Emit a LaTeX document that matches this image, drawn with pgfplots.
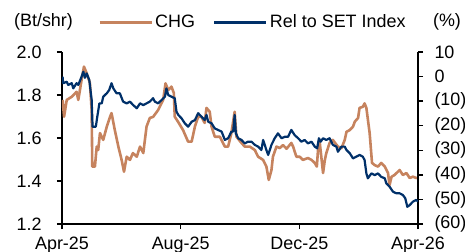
\documentclass[border=0pt]{standalone}
\usepackage{pgfplots}
\pgfplotsset{compat=1.18}
\usepackage{fontspec}
\setmainfont{Liberation Sans}
\definecolor{chg}{RGB}{198,131,94}
\definecolor{rel}{RGB}{0,48,105}
\newcommand{\bigf}{\fontsize{18}{20}\selectfont}
\begin{document}
\begin{tikzpicture}
\pgfplotsset{
  every axis/.append style={
    scale only axis, width=356bp, height=172bp,
    xmin=0, xmax=12,
    tick align=outside, major tick length=5bp,
    axis line style={line width=1.5bp, -},
    tick style={line width=1.5bp, black},
    tick label style={font=\bigf},
    /pgf/number format/assume math mode=true,
  }
}
\begin{axis}[
  ymin=1.2, ymax=2.0,
  axis x line*=bottom, axis y line*=left,
  xtick={0,4,8,12}, xticklabels={Apr-25,Aug-25,Dec-25,Apr-26},
  xticklabel style={anchor=base, yshift=-20bp},
  ytick={1.2,1.4,1.6,1.8,2.0},
  yticklabel style={/pgf/number format/fixed, /pgf/number format/fixed zerofill, /pgf/number format/precision=1, xshift=-12bp},
]
\addplot[chg, line width=2.6bp, line join=round] coordinates {
(0.02,1.777)(0.07,1.699)(0.16,1.777)(0.33,1.792)(0.49,1.815)(0.55,1.777)(0.66,1.870)(0.74,1.932)(0.83,1.902)(0.94,1.856)(1.00,1.730)(1.02,1.467)(1.11,1.467)(1.17,1.560)(1.22,1.544)(1.28,1.623)(1.39,1.591)(1.51,1.653)(1.62,1.699)(1.67,1.716)(1.78,1.637)(1.90,1.560)(2.01,1.498)(2.09,1.443)(2.18,1.513)(2.29,1.498)(2.39,1.530)(2.52,1.513)(2.63,1.560)(2.74,1.530)(2.85,1.653)(2.96,1.693)(3.07,1.698)(3.24,1.730)(3.41,1.777)(3.49,1.854)(3.58,1.823)(3.69,1.839)(3.77,1.809)(3.80,1.699)(3.91,1.676)(4.08,1.637)(4.25,1.583)(4.37,1.583)(4.48,1.653)(4.59,1.699)(4.70,1.699)(4.81,1.670)(4.87,1.740)(4.98,1.722)(5.04,1.653)(5.15,1.606)(5.32,1.606)(5.49,1.560)(5.60,1.560)(5.71,1.623)(5.82,1.722)(5.88,1.606)(6.05,1.577)(6.16,1.560)(6.33,1.560)(6.50,1.544)(6.61,1.513)(6.78,1.498)(6.89,1.467)(6.97,1.405)(7.06,1.451)(7.11,1.513)(7.23,1.560)(7.34,1.553)(7.45,1.567)(7.57,1.550)(7.73,1.577)(7.79,1.560)(7.90,1.513)(8.01,1.513)(8.12,1.498)(8.29,1.507)(8.41,1.498)(8.52,1.484)(8.59,1.467)(8.63,1.544)(8.69,1.577)(8.80,1.437)(8.86,1.498)(8.91,1.530)(9.02,1.577)(9.13,1.591)(9.30,1.560)(9.42,1.553)(9.53,1.591)(9.59,1.629)(9.70,1.637)(9.81,1.653)(9.87,1.676)(9.98,1.693)(10.03,1.740)(10.14,1.745)(10.20,1.761)(10.26,1.740)(10.37,1.623)(10.45,1.484)(10.54,1.474)(10.65,1.467)(10.76,1.484)(10.88,1.467)(10.99,1.437)(11.04,1.381)(11.11,1.420)(11.21,1.428)(11.38,1.451)(11.49,1.428)(11.61,1.437)(11.72,1.414)(11.83,1.420)(11.94,1.414)(12.00,1.416)
};
\end{axis}
\begin{axis}[
  ymin=-60, ymax=10,
  axis x line=none, axis y line*=right,
  ytick={-60,-50,-40,-30,-20,-10,0,10},
  yticklabels={(60),(50),(40),(30),(20),(10),0,10},
  yticklabel style={anchor=west, xshift=8bp},
  legend columns=2,
  legend image code/.code={\draw[#1, line width=3bp] (0bp,0bp) -- (52bp,0bp);},
  legend style={draw=none, fill=none, inner sep=0pt, font=\bigf,
    at={(axis description cs:0.101,1.174)}, anchor=west,
    /tikz/every even column/.append style={column sep=16bp}},
]
\addlegendimage{chg}
\addlegendentry{CHG}
\addplot[rel, line width=2.2bp, line join=round] coordinates {
(0.02,-0.05)(0.04,-2.7)(0.16,-2.1)(0.21,-3.4)(0.33,-2.7)(0.38,-4.8)(0.49,-2.7)(0.55,-3.4)(0.66,-0.05)(0.72,2.0)(0.77,-0.5)(0.83,1.3)(0.92,-1.4)(1.00,-9.5)(1.03,-20.4)(1.14,-20.4)(1.19,-16.3)(1.26,-10.9)(1.34,-10.9)(1.39,-8.2)(1.51,-6.8)(1.59,-5.5)(1.67,-2.7)(1.73,-4.8)(1.84,-6.8)(1.95,-6.8)(2.06,-10.2)(2.18,-10.9)(2.29,-10.2)(2.40,-11.6)(2.52,-12.9)(2.63,-10.9)(2.74,-11.6)(2.85,-10.9)(2.96,-10.2)(3.07,-8.8)(3.13,-10.2)(3.24,-10.9)(3.36,-9.5)(3.47,-8.2)(3.52,-4.8)(3.58,-7.5)(3.69,-8.2)(3.80,-8.8)(3.86,-14.3)(3.92,-15.6)(4.03,-17.0)(4.14,-19.0)(4.25,-20.4)(4.37,-18.4)(4.48,-17.7)(4.59,-14.9)(4.70,-16.3)(4.81,-17.7)(4.87,-15.6)(4.93,-18.4)(5.04,-19.0)(5.15,-21.1)(5.38,-22.4)(5.49,-25.8)(5.60,-25.1)(5.71,-22.4)(5.77,-22.4)(5.82,-15.6)(5.86,-23.1)(5.94,-25.1)(6.05,-25.8)(6.16,-27.2)(6.27,-26.5)(6.39,-26.5)(6.50,-27.8)(6.61,-28.5)(6.72,-29.9)(6.78,-25.8)(6.89,-29.9)(6.95,-31.9)(7.06,-27.8)(7.17,-25.1)(7.28,-23.1)(7.40,-25.1)(7.51,-24.5)(7.62,-24.5)(7.73,-21.7)(7.84,-23.8)(7.96,-25.1)(8.07,-26.5)(8.18,-25.8)(8.29,-27.2)(8.41,-26.5)(8.52,-28.5)(8.60,-29.2)(8.66,-25.1)(8.72,-26.5)(8.80,-25.1)(8.91,-25.8)(9.02,-25.1)(9.13,-27.8)(9.25,-28.5)(9.30,-30.6)(9.42,-28.5)(9.53,-28.5)(9.59,-29.9)(9.70,-31.2)(9.81,-33.3)(9.92,-32.6)(10.03,-31.9)(10.14,-32.6)(10.20,-34.0)(10.26,-39.4)(10.31,-41.4)(10.43,-39.4)(10.54,-40.1)(10.65,-39.4)(10.76,-40.8)(10.88,-41.4)(10.93,-43.4)(11.04,-44.8)(11.16,-46.9)(11.27,-47.5)(11.38,-47.5)(11.49,-48.2)(11.57,-49.5)(11.64,-53.0)(11.72,-52.3)(11.83,-50.9)(11.94,-50.2)(12.00,-50.9)
};
\addlegendentry{Rel to SET Index}
\end{axis}
\node[font=\bigf, anchor=base] at (-18.5bp,197bp) {(Bt/shr)};
\node[font=\bigf, anchor=base] at (385bp,197bp) {(\%)};
\pgfresetboundingbox
\path[use as bounding box] (-62bp,-28bp) rectangle (403bp,224bp);
\end{tikzpicture}
\end{document}
